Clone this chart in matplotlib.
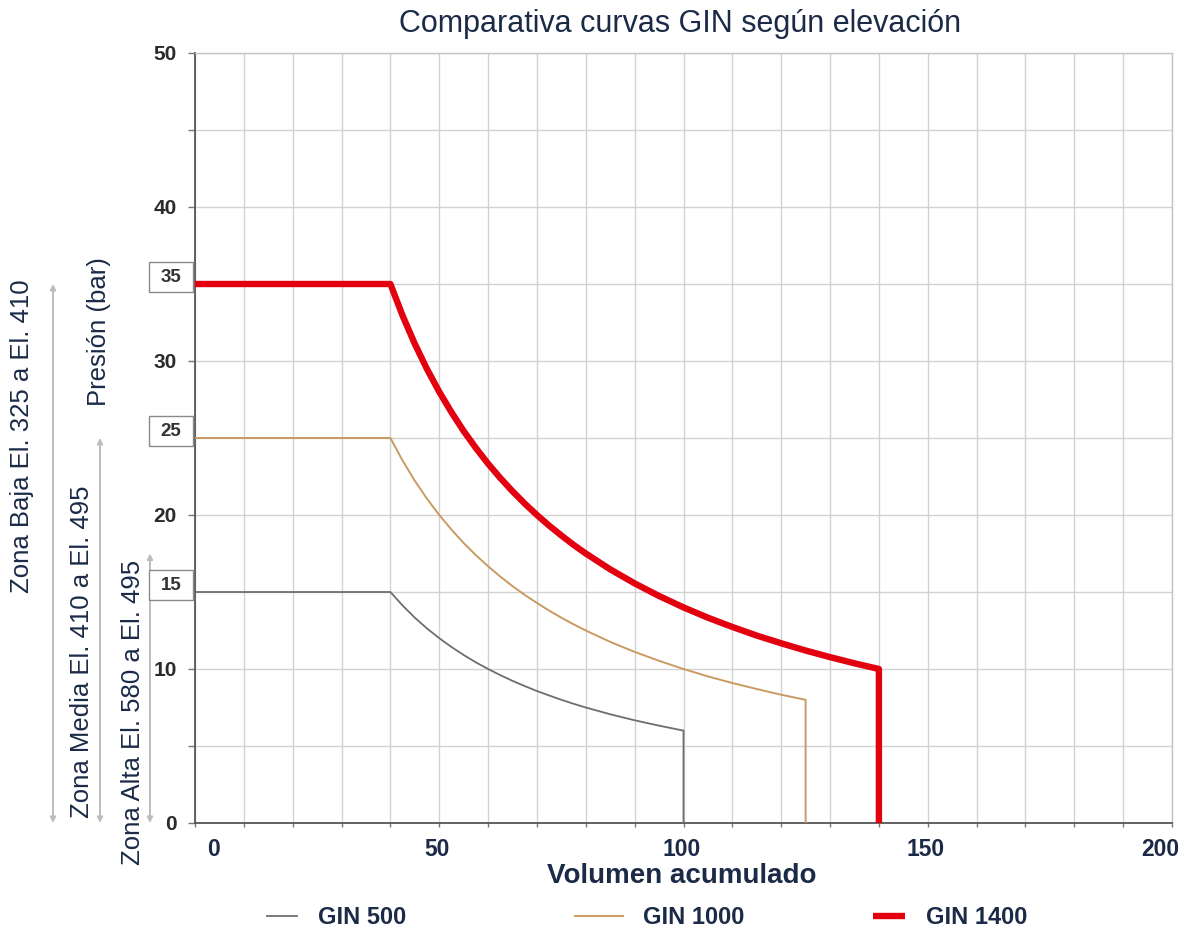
import matplotlib
matplotlib.use("Agg")
import matplotlib.pyplot as plt
from matplotlib.patches import Rectangle
from matplotlib import transforms

plt.rcParams['font.family'] = ['Liberation Sans', 'DejaVu Sans']

# ---------------- data ----------------
volume_500 = [0, 40, 42.5, 45, 47.5, 50, 52.5, 55, 57.5, 60, 62.5, 65, 67.5, 70,
              72.5, 75, 77.5, 80, 85, 90, 95, 100, 100]
pressure_500 = [15, 15, 14.12, 13.33, 12.63, 12, 11.43, 10.91, 10.43, 10, 9.6,
                9.23, 8.89, 8.57, 8.28, 8, 7.74, 7.5, 7.06, 6.67, 6.32, 6, 0]

volume_1000 = [0, 40, 42.5, 45, 47.5, 50, 52.5, 55, 57.5, 60, 62.5, 65, 67.5, 70,
               72.5, 75, 77.5, 80, 85, 90, 95, 100, 105, 110, 115, 120, 125, 125]
pressure_1000 = [25, 25, 23.53, 22.22, 21.05, 20, 19.05, 18.18, 17.39, 16.67, 16,
                 15.38, 14.81, 14.29, 13.79, 13.33, 12.9, 12.5, 11.76, 11.11, 10.53,
                 10, 9.52, 9.09, 8.7, 8.33, 8, 0]

volume_1400 = [0, 40, 42.5, 45, 47.5, 50, 52.5, 55, 57.5, 60, 62.5, 65, 67.5, 70,
               72.5, 75, 77.5, 80, 85, 90, 95, 100, 105, 110, 115, 120, 125, 130,
               135, 140, 140]
pressure_1400 = [35, 35, 32.94, 31.11, 29.47, 28, 26.67, 25.45, 24.35, 23.33, 22.4,
                 21.54, 20.74, 20, 19.31, 18.67, 18.06, 17.5, 16.47, 15.56, 14.74,
                 14, 13.33, 12.73, 12.17, 11.67, 11.2, 10.77, 10.37, 10, 0]

series_labels = ['GIN 500', 'GIN 1000', 'GIN 1400']
x_tick_values = [0, 50, 100, 150, 200]
y_tick_values = [0, 10, 20, 30, 40, 50]
boxed_levels = [15, 25, 35]
zone_labels = ['Zona Baja El. 325 a El. 410',
               'Zona Media El. 410 a El. 495',
               'Zona Alta El. 580 a El. 495']
title = 'Comparativa curvas GIN según elevación'
xlabel = 'Volumen acumulado'
ylabel = 'Presión (bar)'

# ---------------- styles ----------------
W, H = 1187, 934
navy = '#1b2a47'
grid_c = '#d2d2d2'
col_500 = '#6e6e6e'
col_1000 = '#c99a62'
col_1400 = '#e3000f'

fig = plt.figure(figsize=(W / 100, H / 100), dpi=100)
L, R, T, B = 195, 1172, 53, 823
ax = fig.add_axes([L / W, 1 - B / H, (R - L) / W, (B - T) / H])
ax.set_xlim(0, 200)
ax.set_ylim(0, 50)

ax.set_xticks(range(0, 201, 10))
ax.set_xticklabels([])
ax.set_yticks(range(0, 51, 5))
ax.set_yticklabels([str(v) if v in y_tick_values else '' for v in range(0, 51, 5)],
                   fontsize=15, fontweight='bold', color='#2b2b2b')
ax.tick_params(axis='y', length=5, width=1, color='#777777', pad=8)
ax.tick_params(axis='x', length=3, width=1, color='#777777')
ax.grid(True, color=grid_c, linewidth=1)
ax.set_axisbelow(True)
for s in ['top', 'right']:
    ax.spines[s].set_color('#c4c4c4')
    ax.spines[s].set_linewidth(1)
for s in ['left', 'bottom']:
    ax.spines[s].set_color('#555555')
    ax.spines[s].set_linewidth(1.3)

l500, = ax.plot(volume_500, pressure_500, color=col_500, lw=1.3,
                solid_joinstyle='round', zorder=3)
l1000, = ax.plot(volume_1000, pressure_1000, color=col_1000, lw=1.4,
                 solid_joinstyle='round', zorder=3)
l1400, = ax.plot(volume_1400, pressure_1400, color=col_1400, lw=4.6,
                 solid_joinstyle='round', solid_capstyle='butt', zorder=4)

# x tick labels (manual, with slight offsets at the ends)
offsets = {0: 18, 200: -12}
for v in x_tick_values:
    tr = ax.get_xaxis_transform() + transforms.ScaledTranslation(
        offsets.get(v, -2) / 100, -27 / 100, fig.dpi_scale_trans)
    ax.text(v, 0, str(v), transform=tr, ha='center', va='center',
            fontsize=16.5, fontweight='bold', color=navy, clip_on=False)

# boxed level labels
btr = transforms.blended_transform_factory(ax.transAxes, ax.transData)
for lv in boxed_levels:
    ax.add_patch(Rectangle((-0.0471, lv - 0.5), 0.045, 1.95, transform=btr,
                           facecolor='white', edgecolor='#8a8a8a', lw=1,
                           clip_on=False, zorder=5))
    ax.text(-0.0245, lv + 0.45, str(lv), transform=btr, ha='center', va='center',
            fontsize=13.5, fontweight='bold', color='#333333', clip_on=False,
            zorder=6)

# zone arrows
ftr = transforms.blended_transform_factory(fig.transFigure, ax.transData)
arrow_x = [53, 100, 150]
arrow_top = [35, 25, 17.5]
for xp, top in zip(arrow_x, arrow_top):
    ax.annotate('', xy=(xp / W, top), xytext=(xp / W, 0), xycoords=ftr,
                textcoords=ftr,
                arrowprops=dict(arrowstyle='<|-|>', color='#bdbdbd', lw=1.4,
                                mutation_scale=8, shrinkA=0, shrinkB=0),
                annotation_clip=False)

# zone texts
zone_x = [22, 82, 133]
zone_y = [436, 652, 712]
for txt, xp, yp in zip(zone_labels, zone_x, zone_y):
    fig.text(xp / W, 1 - yp / H, txt, rotation=90, ha='center', va='center',
             fontsize=18.5, color=navy)

fig.text(99 / W, 1 - 332 / H, ylabel, rotation=90, ha='center', va='center',
         fontsize=18.5, color=navy)

fig.text(680 / W, 1 - 32 / H, title, ha='center', va='baseline',
         fontsize=22, color=navy)
fig.text(682 / W, 1 - 876 / H, xlabel, ha='center', va='center',
         fontsize=20, fontweight='bold', color=navy)

# legend: three single-entry legends
leg_specs = [(l500, series_labels[0], 267, 1.27),
             (l1000, series_labels[1], 575, 2.03),
             (l1400, series_labels[2], 873, 1.36)]
for h, lab, xp, hl in leg_specs:
    lg = fig.legend(handles=[h], labels=[lab], loc='center left',
                    bbox_to_anchor=(xp / W, 1 - 918 / H), frameon=False,
                    borderpad=0, borderaxespad=0, handlelength=hl,
                    handletextpad=0.87,
                    prop={'size': 17, 'weight': 'bold'})
    for t in lg.get_texts():
        t.set_color(navy)

fig.savefig('out.png', dpi=100)
